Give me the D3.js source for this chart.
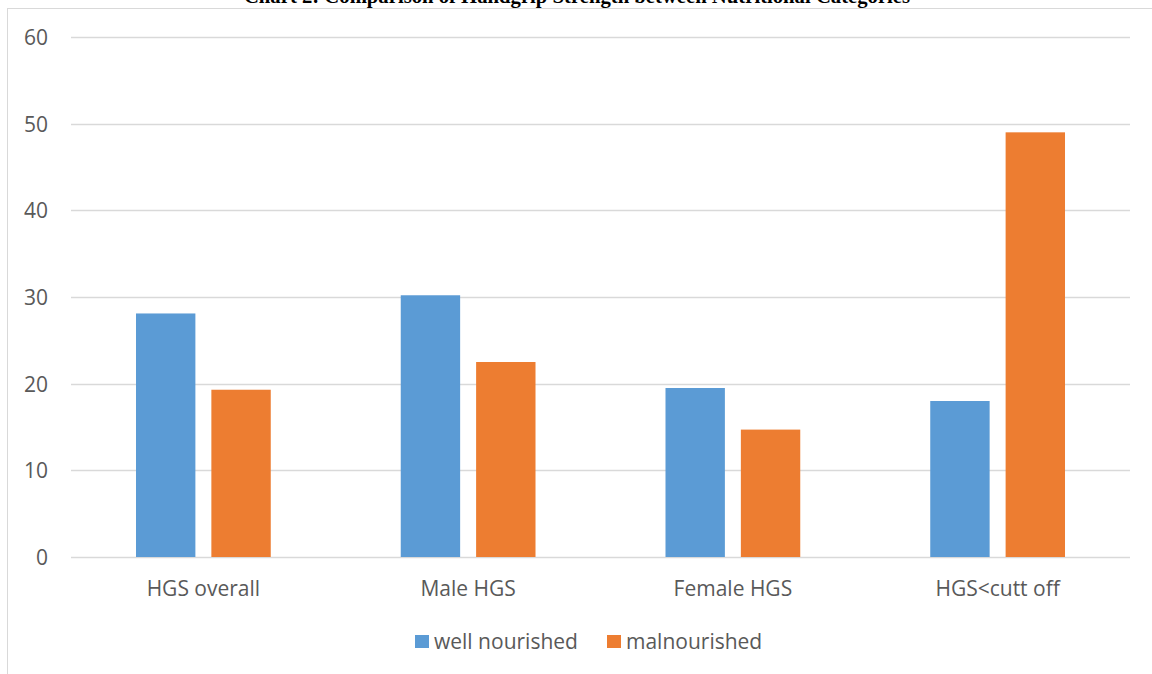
<!DOCTYPE html>
<html>
<head>
<meta charset="utf-8">
<script src="https://cdn.jsdelivr.net/npm/d3@7"></script>
<style>
  html, body { margin: 0; padding: 0; background: #fff; }
  svg { display: block; }
</style>
</head>
<body>
<svg id="chart" width="1152" height="674"></svg>
<script>
const title = "Chart 2: Comparison of Handgrip Strength between Nutritional Categories";
const categories = ["HGS overall", "Male HGS", "Female HGS", "HGS<cutt off"];
const seriesNames = ["well nourished", "malnourished"];
const wellNourished = [28.1, 30.2, 19.5, 18.0];
const malnourished = [19.3, 22.5, 14.7, 49.0];
const yTicks = [0, 10, 20, 30, 40, 50, 60];
const colors = ["#5B9BD5", "#ED7D31"];

const seriesValues = [wellNourished, malnourished];
const svg = d3.select("#chart");
const plot = { left: 71, right: 1130, top: 37, bottom: 557 };
const font = "'Open Sans', sans-serif";
const textColor = "#595959";

// chart border (extends past right/bottom edge)
svg.append("rect")
  .attr("x", 7.5).attr("y", 8.5)
  .attr("width", 1300).attr("height", 800)
  .attr("fill", "#fff").attr("stroke", "#d9d9d9").attr("stroke-width", 1);

// title (partly cut off at top, as in the reference)
svg.append("text")
  .attr("x", 577).attr("y", 3)
  .attr("text-anchor", "middle")
  .attr("font-family", "'Liberation Serif', 'Times New Roman', serif")
  .attr("font-weight", "bold")
  .attr("font-size", 20.7)
  .attr("fill", "#000")
  .text(title);

const y = d3.scaleLinear().domain([0, 60]).range([plot.bottom, plot.top]);
const x0 = d3.scaleBand().domain(categories).range([plot.left, plot.right]).padding(0);
const bw = x0.bandwidth();
const x1 = d3.scaleBand().domain(seriesNames)
  .range([bw * 0.2455, bw * 0.7545]).paddingInner(0.212).paddingOuter(0);

// gridlines
svg.append("g").selectAll("line").data(yTicks).join("line")
  .attr("x1", plot.left).attr("x2", plot.right)
  .attr("y1", d => Math.round(y(d)) + 0.5).attr("y2", d => Math.round(y(d)) + 0.5)
  .attr("stroke", "#d9d9d9").attr("stroke-width", 1.3);

// y axis labels
const yAxis = d3.axisLeft(y).tickValues(yTicks).tickSize(0).tickPadding(0);
const gy = svg.append("g").attr("transform", `translate(48,0)`).call(yAxis);
gy.select(".domain").remove();
gy.selectAll("text")
  .attr("font-family", font).attr("font-size", 21).attr("fill", textColor)
  .attr("dy", "0.36em");

// bars
const groups = svg.append("g").selectAll("g").data(categories).join("g")
  .attr("transform", d => `translate(${x0(d)},0)`);
groups.selectAll("rect")
  .data((c, i) => seriesNames.map((s, j) => ({ s, v: seriesValues[j][i], j })))
  .join("rect")
  .attr("x", d => x1(d.s))
  .attr("width", x1.bandwidth())
  .attr("y", d => y(d.v))
  .attr("height", d => y(0) - y(d.v))
  .attr("fill", d => colors[d.j]);

// x axis labels
const xAxis = d3.axisBottom(x0).tickSize(0).tickPadding(0);
const gx = svg.append("g").attr("transform", `translate(0,596)`).call(xAxis);
gx.select(".domain").remove();
gx.selectAll("text")
  .attr("font-family", font).attr("font-size", 21).attr("fill", textColor)
  .attr("dy", 0).attr("y", 0);

// legend
const legendItems = [
  { name: seriesNames[0], color: colors[0], x: 415 },
  { name: seriesNames[1], color: colors[1], x: 607 }
];
const lg = svg.append("g").selectAll("g").data(legendItems).join("g")
  .attr("transform", d => `translate(${d.x},0)`);
lg.append("rect").attr("x", 0).attr("y", 635).attr("width", 14).attr("height", 13)
  .attr("fill", d => d.color);
lg.append("text").attr("x", 19).attr("y", 649)
  .attr("font-family", font).attr("font-size", 21).attr("fill", textColor)
  .text(d => d.name);
</script>
</body>
</html>
